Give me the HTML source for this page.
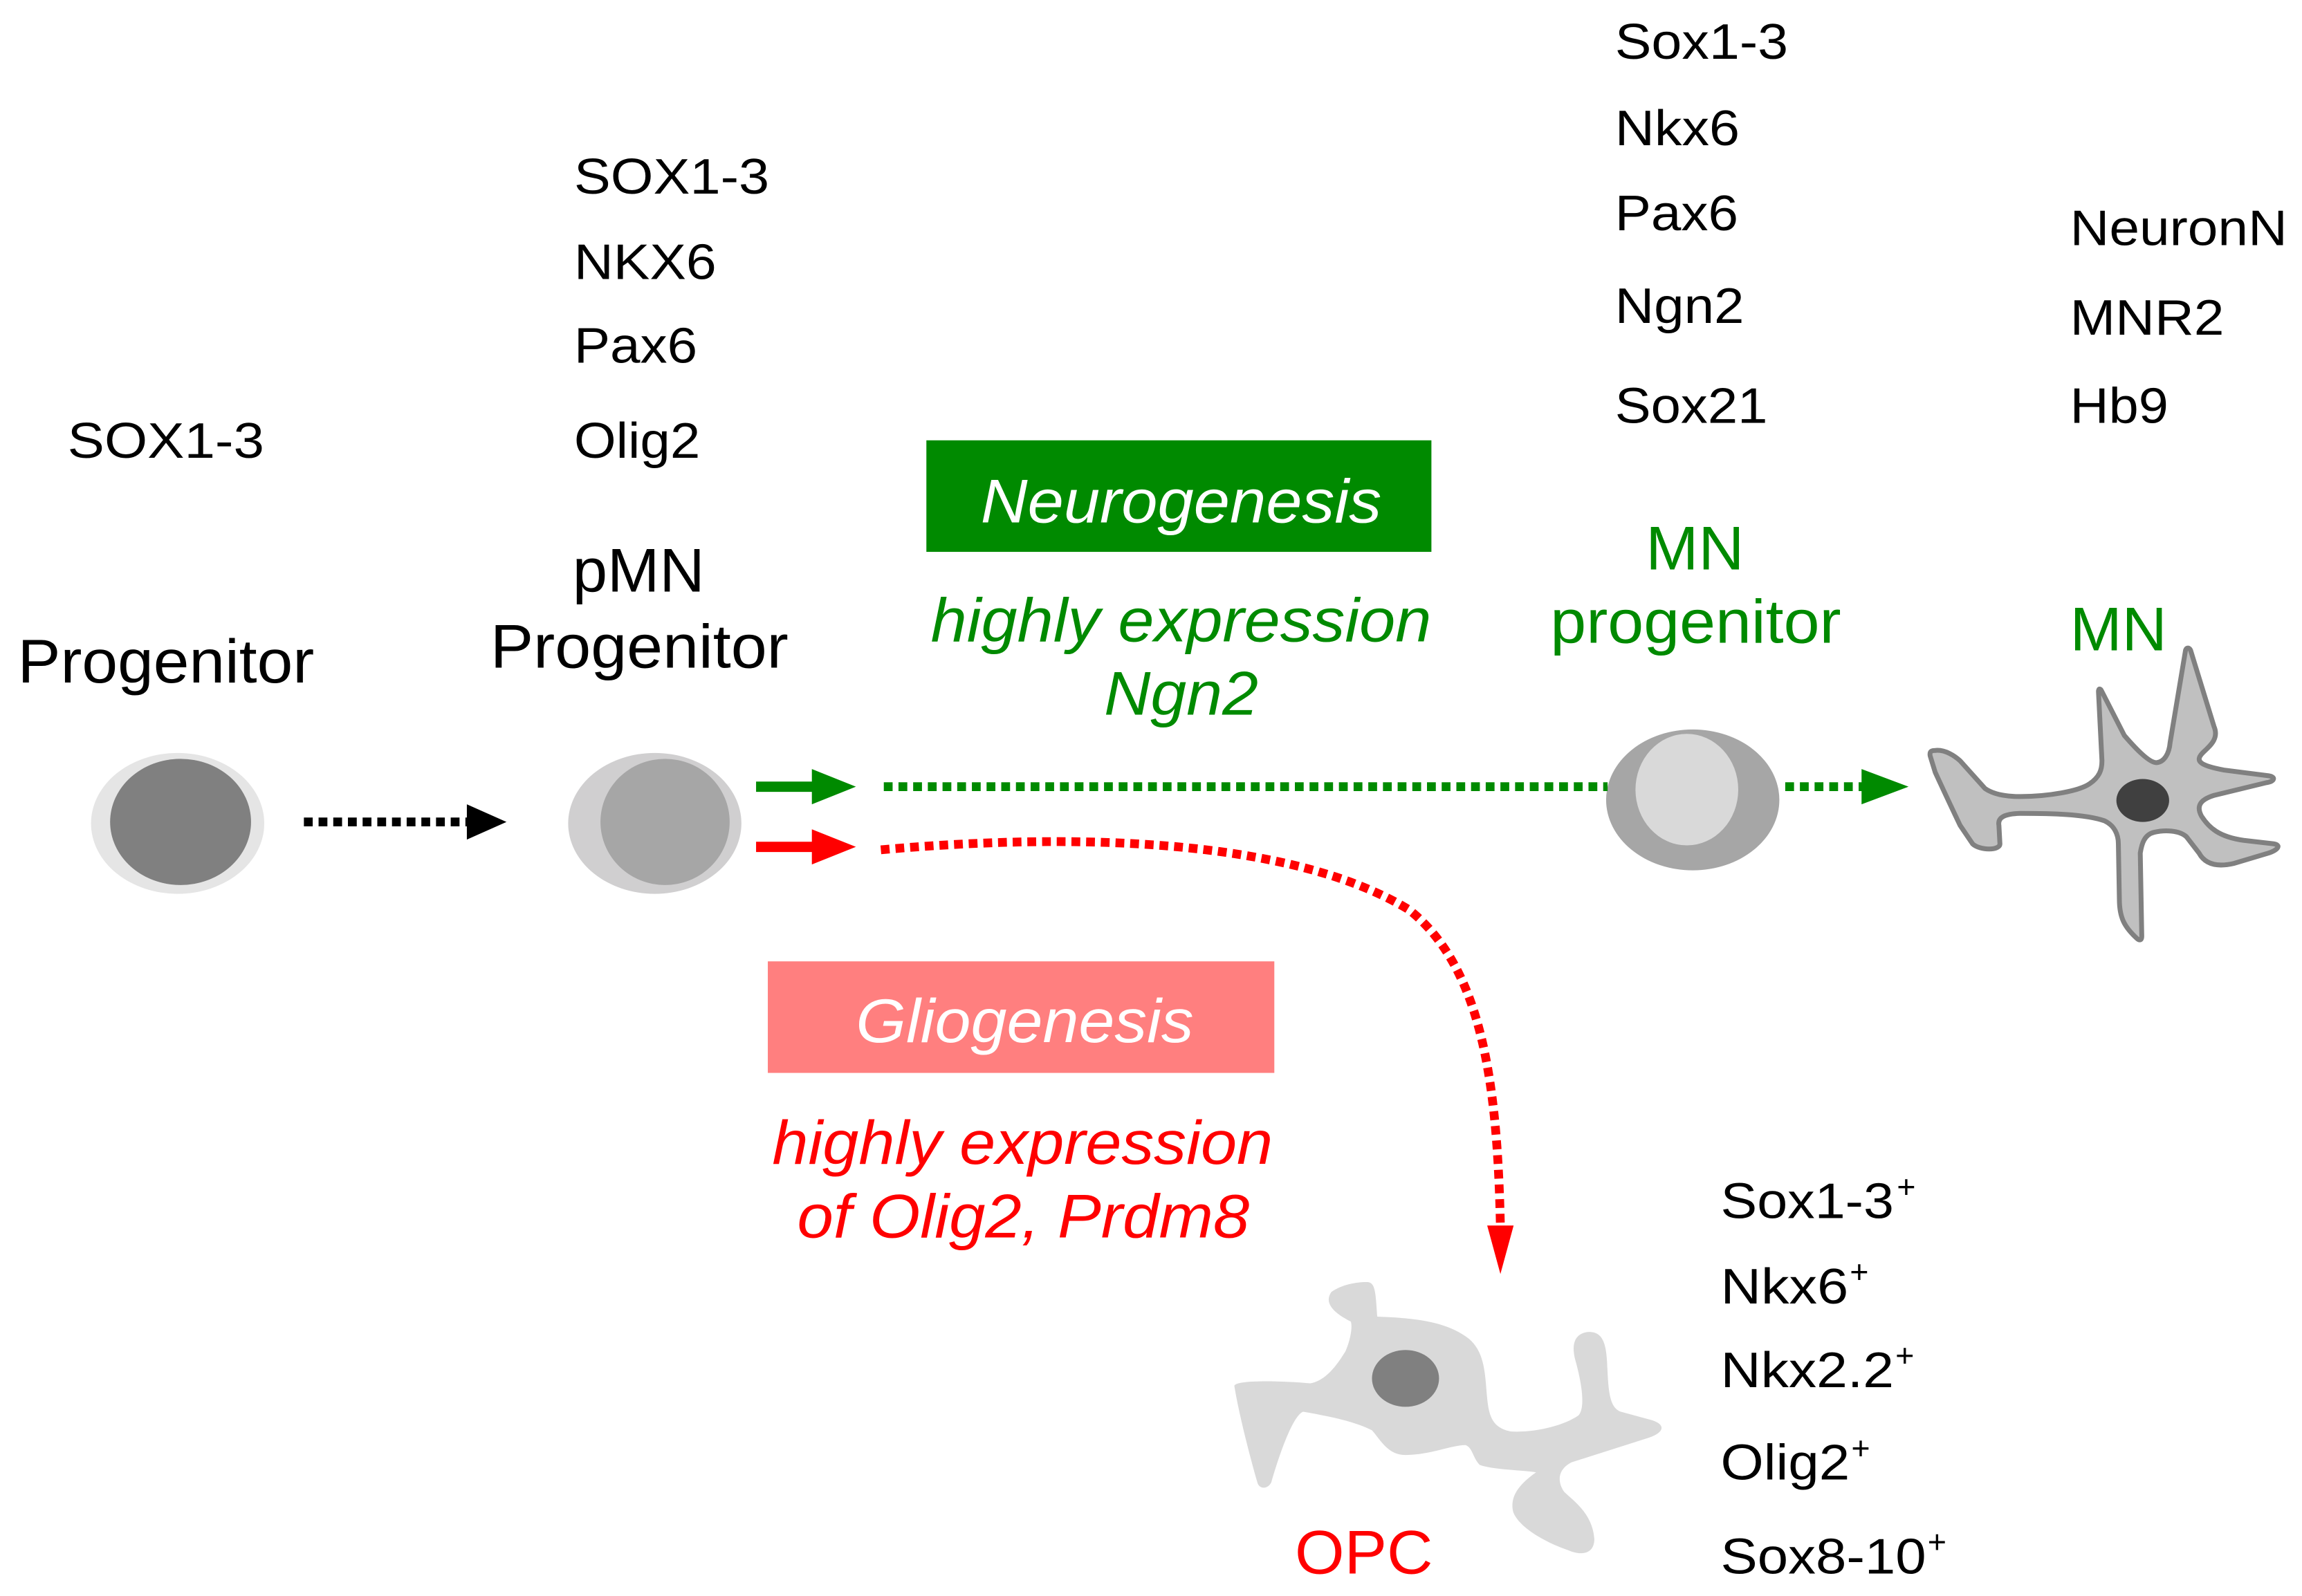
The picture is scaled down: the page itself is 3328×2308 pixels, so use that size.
<!DOCTYPE html>
<html><head><meta charset="utf-8"><style>html,body{margin:0;padding:0;background:#fff}svg{display:block}</style></head>
<body>
<svg width="3328" height="2308" viewBox="0 0 1568 1087.4" preserveAspectRatio="none" xmlns="http://www.w3.org/2000/svg" font-family="Liberation Sans, Arial, sans-serif">
<rect width="1568" height="1088" fill="#fff"/>
<g font-size="34" fill="#000" lengthAdjust="spacingAndGlyphs">
<text x="46" y="312" textLength="134" lengthAdjust="spacingAndGlyphs">SOX1-3</text>
<text x="391" y="132" textLength="133" lengthAdjust="spacingAndGlyphs">SOX1-3</text>
<text x="391" y="190" textLength="97" lengthAdjust="spacingAndGlyphs">NKX6</text>
<text x="391" y="247" textLength="84" lengthAdjust="spacingAndGlyphs">Pax6</text>
<text x="391" y="312" textLength="86" lengthAdjust="spacingAndGlyphs">Olig2</text>
<text x="1100" y="40" textLength="118" lengthAdjust="spacingAndGlyphs">Sox1-3</text>
<text x="1100" y="99" textLength="85" lengthAdjust="spacingAndGlyphs">Nkx6</text>
<text x="1100" y="157" textLength="84" lengthAdjust="spacingAndGlyphs">Pax6</text>
<text x="1100" y="220" textLength="88" lengthAdjust="spacingAndGlyphs">Ngn2</text>
<text x="1100" y="288" textLength="104" lengthAdjust="spacingAndGlyphs">Sox21</text>
<text x="1410" y="167" textLength="148" lengthAdjust="spacingAndGlyphs">NeuronN</text>
<text x="1410" y="228" textLength="105" lengthAdjust="spacingAndGlyphs">MNR2</text>
<text x="1410" y="288" textLength="67" lengthAdjust="spacingAndGlyphs">Hb9</text>
<text x="1172" y="830" textLength="118" lengthAdjust="spacingAndGlyphs">Sox1-3</text><text x="1292" y="816" font-size="22">+</text>
<text x="1172" y="888" textLength="87" lengthAdjust="spacingAndGlyphs">Nkx6</text><text x="1260" y="874" font-size="22">+</text>
<text x="1172" y="945" textLength="118" lengthAdjust="spacingAndGlyphs">Nkx2.2</text><text x="1291" y="931" font-size="22">+</text>
<text x="1172" y="1008" textLength="88" lengthAdjust="spacingAndGlyphs">Olig2</text><text x="1261" y="994" font-size="22">+</text>
<text x="1172" y="1072" textLength="140" lengthAdjust="spacingAndGlyphs">Sox8-10</text><text x="1313" y="1058" font-size="22">+</text>
</g>
<g font-size="42" fill="#000">
<text x="12" y="465" textLength="202" lengthAdjust="spacingAndGlyphs">Progenitor</text>
<text x="390" y="403" textLength="90" lengthAdjust="spacingAndGlyphs">pMN</text>
<text x="334" y="455" textLength="203" lengthAdjust="spacingAndGlyphs">Progenitor</text>
</g>
<ellipse cx="121" cy="561" rx="59" ry="48" fill="#e5e5e5"/>
<ellipse cx="123" cy="560" rx="48" ry="43" fill="#808080"/>
<ellipse cx="446" cy="561" rx="59" ry="48" fill="#d0cfd0"/>
<ellipse cx="453" cy="560" rx="44" ry="43" fill="#a6a6a6"/>
<ellipse cx="1153" cy="545" rx="59" ry="48" fill="#a6a6a6"/>
<ellipse cx="1149" cy="538" rx="35" ry="38" fill="#d9d9d9"/>
<line x1="207" y1="560" x2="320" y2="560" stroke="#000" stroke-width="6" stroke-dasharray="6 4"/>
<polygon points="318,548 345,560 318,572" fill="#000"/>
<line x1="515" y1="536" x2="555" y2="536" stroke="#008a00" stroke-width="7"/>
<polygon points="553,524 583,536 553,548" fill="#008a00"/>
<line x1="602" y1="536" x2="1095" y2="536" stroke="#008a00" stroke-width="6" stroke-dasharray="6 4"/>
<line x1="1216" y1="536" x2="1270" y2="536" stroke="#008a00" stroke-width="6" stroke-dasharray="6 4"/>
<polygon points="1268,524 1300,536 1268,548" fill="#008a00"/>
<line x1="515" y1="577" x2="555" y2="577" stroke="#ff0000" stroke-width="7"/>
<polygon points="553,565 583,577 553,589" fill="#ff0000"/>
<path d="M600,579 C700,570 870,565 960,620 C1010,660 1020,740 1022,836" fill="none" stroke="#ff0000" stroke-width="6" stroke-dasharray="6 4"/>
<polygon points="1013,835 1031,835 1022,868" fill="#ff0000"/>
<rect x="631" y="300" width="344" height="76" fill="#008a00"/>
<text x="668" y="356" font-size="42" font-style="italic" fill="#fff" textLength="273" lengthAdjust="spacingAndGlyphs">Neurogenesis</text>
<rect x="523" y="655" width="345" height="76" fill="#ff7f7f"/>
<text x="583" y="710" font-size="42" font-style="italic" fill="#fff" textLength="230" lengthAdjust="spacingAndGlyphs">Gliogenesis</text>
<g font-size="42" font-style="italic">
<text x="634" y="437" fill="#008a00" textLength="341" lengthAdjust="spacingAndGlyphs">highly expression</text>
<text x="752" y="487" fill="#008a00" textLength="105" lengthAdjust="spacingAndGlyphs">Ngn2</text>
<text x="526" y="793" fill="#ff0000" textLength="341" lengthAdjust="spacingAndGlyphs">highly expression</text>
<text x="543" y="843" fill="#ff0000" textLength="308" lengthAdjust="spacingAndGlyphs">of Olig2, Prdm8</text>
</g>
<g font-size="42">
<text x="1121" y="388" fill="#008a00" textLength="67" lengthAdjust="spacingAndGlyphs">MN</text>
<text x="1056" y="438" fill="#008a00" textLength="198" lengthAdjust="spacingAndGlyphs">progenitor</text>
<text x="1410" y="443" fill="#008a00" textLength="66" lengthAdjust="spacingAndGlyphs">MN</text>
<text x="882" y="1072" fill="#ff0000" textLength="94" lengthAdjust="spacingAndGlyphs">OPC</text>
</g>
<g transform="matrix(0.339 0 0 0.1571 1036.8 424.1)">
<path d="M830,555 C850,550 870,580 880,600 L930,720 C950,750 980,755 1000,755 C1060,755 1120,730 1140,700 C1160,670 1165,640 1165,600 L1158,300 C1158,285 1162,285 1165,300 L1210,490 C1230,540 1260,610 1275,608 C1290,605 1300,570 1302,520 L1333,120 C1335,108 1340,108 1343,120 L1390,450 C1400,500 1385,530 1370,560 C1350,600 1360,620 1410,640 L1500,665 C1515,670 1512,690 1495,695 L1390,750 C1360,770 1355,800 1365,840 C1380,890 1400,930 1450,945 L1510,960 C1525,965 1520,985 1500,1000 L1430,1045 C1390,1065 1370,1040 1360,1000 L1335,930 C1320,900 1290,900 1270,910 C1250,920 1245,960 1242,1000 L1245,1360 C1245,1380 1240,1380 1235,1370 C1210,1320 1200,1280 1200,1200 L1198,960 C1198,920 1190,880 1170,860 C1130,830 1060,828 1000,828 C970,830 955,845 958,880 L960,960 C960,990 920,990 905,960 L880,880 C860,790 845,720 830,650 L820,580 C818,560 822,555 830,555 Z" fill="#c0c0c0" stroke="#808080" stroke-width="7" vector-effect="non-scaling-stroke"/>
<ellipse cx="1247" cy="772" rx="53" ry="93" fill="#404040"/>
</g>
<g transform="matrix(0.2404 0 0 0.1683 801.1 824.7)">
<path d="M540,290 C565,290 565,330 570,430 C650,435 760,440 830,520 C870,570 875,640 880,740 C885,820 890,880 950,895 C1020,900 1100,870 1140,830 C1160,800 1150,700 1130,600 C1120,540 1130,495 1170,492 C1210,492 1220,540 1222,640 C1225,740 1230,800 1260,815 L1350,850 C1390,870 1380,900 1340,920 L1120,1020 C1080,1050 1080,1100 1100,1140 C1130,1180 1180,1230 1185,1330 C1185,1390 1150,1400 1110,1375 C1040,1340 970,1280 955,1220 C945,1160 970,1110 1020,1060 C970,1050 900,1050 860,1030 C840,1000 840,960 820,950 C780,950 720,990 650,990 C600,990 580,930 555,890 C500,850 420,830 360,815 C330,830 290,1000 270,1100 C260,1130 235,1130 230,1100 C200,950 175,800 165,710 C170,685 300,690 380,700 C420,690 450,640 480,570 C495,520 500,470 495,450 C440,410 420,370 440,330 C470,300 510,290 540,290 Z" fill="#d9d9d9"/>
<ellipse cx="650" cy="680" rx="95" ry="115" fill="#808080"/>
</g>
</svg>
</body></html>
